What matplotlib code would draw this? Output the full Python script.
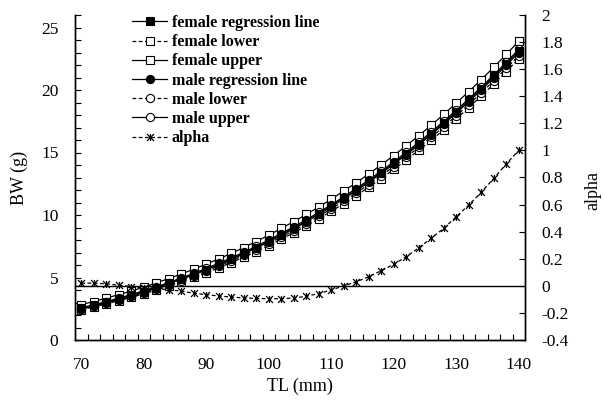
import matplotlib
matplotlib.use("Agg")
import matplotlib.pyplot as plt
from matplotlib.path import Path
from matplotlib.ticker import MultipleLocator, FuncFormatter
import numpy as np

plt.rcParams['font.family'] = ['Liberation Serif', 'DejaVu Serif']
plt.rcParams['axes.unicode_minus'] = False

tl = [70, 72, 74, 76, 78, 80, 82, 84, 86, 88, 90, 92, 94, 96, 98, 100, 102, 104,
      106, 108, 110, 112, 114, 116, 118, 120, 122, 124, 126, 128, 130, 132, 134,
      136, 138, 140]

female_reg = [2.53, 2.77, 3.02, 3.29, 3.57, 3.87, 4.19, 4.53, 4.88, 5.25, 5.64, 6.05,
              6.48, 6.93, 7.40, 7.90, 8.42, 8.95, 9.52, 10.10, 10.71, 11.35, 12.00,
              12.69, 13.40, 14.14, 14.91, 15.70, 16.52, 17.38, 18.27, 19.17, 20.12,
              21.10, 22.11, 23.15]
female_lower = [2.43, 2.65, 2.89, 3.14, 3.41, 3.69, 4.00, 4.32, 4.65, 5.01, 5.38, 5.78,
                6.19, 6.63, 7.08, 7.56, 8.07, 8.58, 9.14, 9.70, 10.30, 10.92, 11.55,
                12.23, 12.92, 13.65, 14.40, 15.18, 15.98, 16.82, 17.70, 18.58, 19.52,
                20.48, 21.48, 22.50]
female_upper = [2.83, 3.08, 3.35, 3.63, 3.92, 4.23, 4.57, 4.92, 5.28, 5.67, 6.07, 6.49,
                6.93, 7.40, 7.88, 8.39, 8.93, 9.47, 10.05, 10.64, 11.27, 11.92, 12.58,
                13.29, 14.01, 14.76, 15.54, 16.35, 17.18, 18.05, 18.96, 19.87, 20.83,
                21.82, 22.85, 23.90]
male_reg = [2.52, 2.76, 3.01, 3.28, 3.56, 3.86, 4.17, 4.51, 4.86, 5.23, 5.62, 6.03,
            6.45, 6.90, 7.37, 7.86, 8.38, 8.91, 9.47, 10.05, 10.66, 11.29, 11.94,
            12.62, 13.33, 14.07, 14.83, 15.62, 16.43, 17.28, 18.16, 19.06, 20.00,
            20.97, 21.97, 23.00]
male_lower = [2.47, 2.70, 2.95, 3.21, 3.49, 3.78, 4.09, 4.42, 4.76, 5.13, 5.51, 5.92,
              6.33, 6.78, 7.24, 7.72, 8.24, 8.76, 9.32, 9.89, 10.50, 11.12, 11.76,
              12.44, 13.14, 13.88, 14.63, 15.42, 16.22, 17.06, 17.94, 18.83, 19.77,
              20.73, 21.73, 22.75]
male_upper = [2.57, 2.82, 3.07, 3.35, 3.63, 3.94, 4.25, 4.60, 4.96, 5.33, 5.73, 6.14,
              6.57, 7.02, 7.50, 8.00, 8.52, 9.06, 9.62, 10.21, 10.82, 11.46, 12.12,
              12.80, 13.52, 14.26, 15.03, 15.82, 16.64, 17.50, 18.38, 19.29, 20.23,
              21.21, 22.21, 23.25]
alpha = [0.02, 0.02, 0.015, 0.005, -0.006, -0.014, -0.02, -0.03, -0.038, -0.055,
         -0.065, -0.075, -0.083, -0.089, -0.093, -0.095, -0.095, -0.09, -0.077,
         -0.057, -0.031, 0.0, 0.03, 0.067, 0.112, 0.159, 0.215, 0.281, 0.351, 0.425,
         0.51, 0.597, 0.69, 0.794, 0.9, 1.0]

x_labels = [70, 80, 90, 100, 110, 120, 130, 140]

star = Path([(0, -1), (0, 1), (-1, -1), (1, 1), (-1, 1), (1, -1)],
            [Path.MOVETO, Path.LINETO, Path.MOVETO, Path.LINETO, Path.MOVETO, Path.LINETO])

fig = plt.figure(figsize=(6.04, 4.05), dpi=100)
ax = fig.add_axes([75 / 604, 1 - 340 / 405, 450 / 604, 325 / 405])
ax2 = ax.twinx()

dash = (0, (3, 2))
ms = 5.9
lw = 0.9
h = []
h += ax.plot(tl, female_reg, color='black', lw=lw, marker='s', ms=ms, mfc='black', mec='black', mew=0.8,
             label='female regression line', zorder=4)
h += ax.plot(tl, female_lower, color='black', lw=lw, ls=dash, marker='s', ms=ms, mfc='white', mec='black',
             mew=0.8, label='female lower', zorder=2)
h += ax.plot(tl, female_upper, color='black', lw=lw, marker='s', ms=ms, mfc='white', mec='black', mew=0.8,
             label='female upper', zorder=2)
h += ax.plot(tl, male_reg, color='black', lw=lw, marker='o', ms=ms, mfc='black', mec='black', mew=0.8,
             label='male regression line', zorder=5)
h += ax.plot(tl, male_lower, color='black', lw=lw, ls=dash, marker='o', ms=ms, mfc='white', mec='black',
             mew=0.8, label='male lower', zorder=3)
h += ax.plot(tl, male_upper, color='black', lw=lw, marker='o', ms=ms, mfc='white', mec='black', mew=0.8,
             label='male upper', zorder=3)
h += ax2.plot(tl, alpha, color='black', lw=lw, ls=dash, marker=star, ms=5, mec='black', mew=0.9,
              label='alpha')
ax2.axhline(0, color='black', lw=1.0, zorder=1)

ax.set_xlim(69, 141)
ax.set_ylim(0, 26)
ax2.set_ylim(-0.4, 2)

ax.set_xticks(x_labels)
ax.set_xticks(np.arange(71, 140, 2), minor=True)
ax.tick_params(axis='x', which='major', length=0, pad=12, labelsize=12.5)
ax.tick_params(axis='x', which='minor', direction='in', length=4, width=0.8)

ax.yaxis.set_major_locator(MultipleLocator(5))
ax.yaxis.set_minor_locator(MultipleLocator(1))
ax.tick_params(axis='y', which='both', direction='in', length=4, width=0.8, pad=12, labelsize=12.5)

ax2.yaxis.set_major_locator(MultipleLocator(0.2))
ax2.yaxis.set_major_formatter(FuncFormatter(lambda v, p: f"{round(v, 1):g}"))
ax2.tick_params(axis='y', direction='in', length=4, width=0.8, pad=12, labelsize=12.5)

for a in (ax, ax2):
    a.spines['top'].set_visible(False)
    for s in ('left', 'right', 'bottom'):
        a.spines[s].set_linewidth(1.0)

ax.set_xlabel('TL (mm)', fontsize=13)
ax.xaxis.set_label_coords(0.5, -0.115)
ax.set_ylabel('BW (g)', fontsize=13)
ax.yaxis.set_label_coords(-0.105, 0.5)
ax2.set_ylabel('alpha', fontsize=13, rotation=90)
ax2.yaxis.set_label_coords(1.132, 0.46)

fig.legend(handles=h, loc='upper left', bbox_to_anchor=(132 / 604, 1 - 15 / 405),
           bbox_transform=fig.transFigure, frameon=False, borderpad=0, borderaxespad=0,
           handlelength=2.2, handletextpad=0.3, labelspacing=0.2,
           prop={'family': 'Liberation Serif', 'weight': 'bold', 'size': 11.5})

fig.savefig('out.png', dpi=100)
